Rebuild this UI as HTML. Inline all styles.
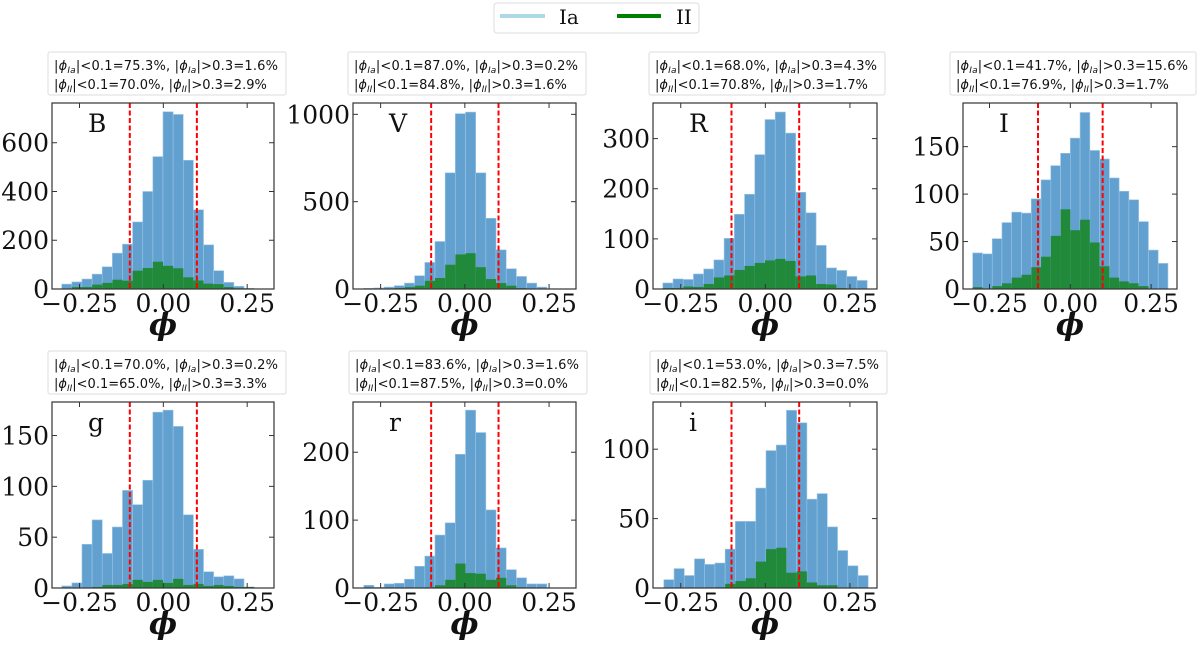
<!DOCTYPE html>
<html><head><meta charset="utf-8">
<style>
body{margin:0;background:#fff;}
svg{display:block;}
.tk{font-family:"DejaVu Serif","Liberation Serif",serif;font-size:25px;fill:#111;}
.lg{font-family:"DejaVu Serif","Liberation Serif",serif;font-size:20px;fill:#111;}
.box{font-family:"DejaVu Sans","Liberation Sans",sans-serif;font-size:13px;fill:#111;}
</style></head>
<body>
<svg id="fig" width="1200" height="648" viewBox="0 0 1200 648" xmlns="http://www.w3.org/2000/svg">
  <g>
    <rect x="494" y="3" width="205" height="30" rx="3" fill="#fff" stroke="#ddd"/>
    <line x1="500" y1="16" x2="545" y2="16" stroke="#add8e6" stroke-width="4"/>
    <text x="559" y="24" class="lg">Ia</text>
    <line x1="617" y1="16" x2="661" y2="16" stroke="#008000" stroke-width="4"/>
    <text x="676" y="24" class="lg">II</text>
  </g>
</svg>
<script>
// ---- data ----
const panelNames = ["B","V","R","I","g","r","i"];
const binWidth = 0.0302;
const binStart = [-0.303,-0.30,-0.303,-0.302,-0.303,-0.30,-0.30];
const yMax = [763,1065,371,196,183,274,134];
const yTicksB = [0,200,400,600];
const yTicksV = [0,500,1000];
const yTicksR = [0,100,200,300];
const yTicksI = [0,50,100,150];
const yTicksg = [0,50,100,150];
const yTicksr = [0,100,200];
const yTicksi = [0,50,100];
const xTicks = [-0.25,0,0.25];
const xTickLabels = ["\u22120.25","0.00","0.25"];
const cutLines = [-0.1,0.1];
const iaB = [20,29,41,61,91,147,184,275,400,543,727,716,528,325,181,75,27,11,0];
const iiB = [0,8,8,18,25,38,34,75,86,112,95,85,48,35,22,20,8,3,3];
const iaV = [4,6,11,19,34,76,152,272,665,1004,1013,665,405,224,116,72,34,11];
const iiV = [2,2,3,6,11,19,47,63,139,198,205,125,57,34,19,5,2,0];
const iaR = [12,20,19,30,40,58,101,149,189,268,338,353,311,193,152,87,42,37,25,17];
const iiR = [2,2,5,4,10,23,27,38,46,52,57,60,56,25,27,10,9,2,1,0];
const iaI = [38,37,53,70,81,80,95,115,130,143,159,186,146,137,117,103,94,71,41,27];
const iiI = [2,0,3,6,12,15,23,34,56,84,62,73,49,24,12,8,6,3,0,0];
const iag = [2,5,43,67,34,60,96,82,106,173,175,159,72,38,16,11,12,9,1];
const iig = [0,0,0,1,3,3,4,8,6,8,5,9,3,4,2,3,2,1,1];
const iar = [4,1,6,7,13,32,47,78,96,197,262,229,115,59,27,15,6,6];
const iir = [0,0,0,0,0,0,1,4,12,36,22,21,12,15,4,1,0,0];
const iai = [6,14,9,21,17,18,28,48,48,72,99,103,128,119,64,68,44,27,16,9];
const iii = [0,0,0,0,0,0.5,3,5,7,19,28,29,11,12,4,2,2,0,0,0];
const boxText = [
 ["75.3","1.6","70.0","2.9"],["87.0","0.2","84.8","1.6"],["68.0","4.3","70.8","1.7"],
 ["41.7","15.6","76.9","1.7"],["70.0","0.2","65.0","3.3"],["83.6","1.6","87.5","0.0"],["53.0","7.5","82.5","0.0"]];
const iaData=[iaB,iaV,iaR,iaI,iag,iar,iai];
const iiData=[iiB,iiV,iiR,iiI,iig,iir,iii];
const yTicksAll=[yTicksB,yTicksV,yTicksR,yTicksI,yTicksg,yTicksr,yTicksi];
// ---- layout ----
const axL=[52,353,653,963,52,353,653], axR=[274,576,877,1177,274,576,877];
const axT=[103,103,103,103,402,402,402], axB=[289,289,289,289,588,588,588];
const boxX=[[48,286],[348,586],[649,885],[950,1196],[48,286],[349,587],[650,887]];
const xMin=-0.332,xMaxV=0.33;
const NS="http://www.w3.org/2000/svg";
const svg=document.getElementById("fig");
function mk(tag,attrs,parent){const e=document.createElementNS(NS,tag);for(const k in attrs)e.setAttribute(k,attrs[k]);(parent||svg).appendChild(e);return e;}
panelNames.forEach((nm,p)=>{
  const g=mk("g",{});
  
  
  const L=axL[p],R=axR[p],T=axT[p],B=axB[p];
  const xs=v=>L+(v-xMin)/(xMaxV-xMin)*(R-L);
  const ys=v=>B-v/yMax[p]*(B-T);
  const bx=boxX[p],by=T-51;
  const rb=mk("rect",{x:bx[0],y:by,width:bx[1]-bx[0],height:43,fill:"#fff",stroke:"#ddd",rx:2},g);
  
  
  const s=boxText[p];
  const t1=mk("text",{x:bx[0]+6,y:by+18,class:"box",textLength:bx[1]-bx[0]-14,lengthAdjust:"spacing"},g);
  t1.innerHTML='|<tspan font-style="italic">ϕ</tspan><tspan font-size="9" font-style="italic" dy="3">Ia</tspan><tspan dy="-3">|&lt;0.1='+s[0]+'%, |</tspan><tspan font-style="italic">ϕ</tspan><tspan font-size="9" font-style="italic" dy="3">Ia</tspan><tspan dy="-3">|&gt;0.3='+s[1]+'%</tspan>';
  
  
  const t2=mk("text",{x:bx[0]+6,y:by+37,class:"box"},g);
  t2.innerHTML='|<tspan font-style="italic">ϕ</tspan><tspan font-size="9" font-style="italic" dy="3">II</tspan><tspan dy="-3">|&lt;0.1='+s[2]+'%, |</tspan><tspan font-style="italic">ϕ</tspan><tspan font-size="9" font-style="italic" dy="3">II</tspan><tspan dy="-3">|&gt;0.3='+s[3]+'%</tspan>';
  
  
  iaData[p].forEach((v,i)=>{
    const x0=xs(binStart[p]+i*binWidth),x1=xs(binStart[p]+(i+1)*binWidth);
    const r=mk("rect",{x:x0,y:ys(v),width:x1-x0,height:B-ys(v),fill:"#62a0cf",stroke:"#9cc6e6","stroke-width":0.6},g);
    
    
  });
  iiData[p].forEach((v,i)=>{
    const x0=xs(binStart[p]+i*binWidth),x1=xs(binStart[p]+(i+1)*binWidth);
    const r=mk("rect",{x:x0,y:ys(v),width:x1-x0,height:B-ys(v),fill:"#218a3a"},g);
    
    
  });
  cutLines.forEach(c=>{
    const l=mk("line",{x1:xs(c),x2:xs(c),y1:T,y2:B,stroke:"#f00","stroke-width":2,"stroke-dasharray":"5,2.5"},g);
    
    
  });
  const fr=mk("rect",{x:L,y:T,width:R-L,height:B-T,fill:"none",stroke:"#333","stroke-width":1.2},g);
  
  
  xTicks.forEach((v,i)=>{
    mk("line",{x1:xs(v),x2:xs(v),y1:B,y2:B-5,stroke:"#333"},g);
    mk("line",{x1:xs(v),x2:xs(v),y1:T,y2:T+5,stroke:"#333"},g);
    const t=mk("text",{x:xs(v),y:B+23,class:"tk","text-anchor":"middle"},g);
    t.textContent=xTickLabels[i];
    
    
  });
  yTicksAll[p].forEach(v=>{
    mk("line",{x1:L,x2:L+5,y1:ys(v),y2:ys(v),stroke:"#333"},g);
    mk("line",{x1:R,x2:R-5,y1:ys(v),y2:ys(v),stroke:"#333"},g);
    const t=mk("text",{x:L-3,y:ys(v)+9,class:"tk","text-anchor":"end"},g);
    t.textContent=v;
    
    
  });
  const pl=mk("text",{x:L+36,y:T+29,class:"tk","font-size":"24"},g);
  pl.textContent=nm;
  
  
  const xl=mk("text",{x:(L+R)/2,y:B+46,"text-anchor":"middle","font-family":"DejaVu Serif,Liberation Serif,serif","font-size":"30","font-weight":"bold","font-style":"italic",fill:"#111"},g);
  xl.textContent="ϕ";
  
  
});
</script>
</body></html>
